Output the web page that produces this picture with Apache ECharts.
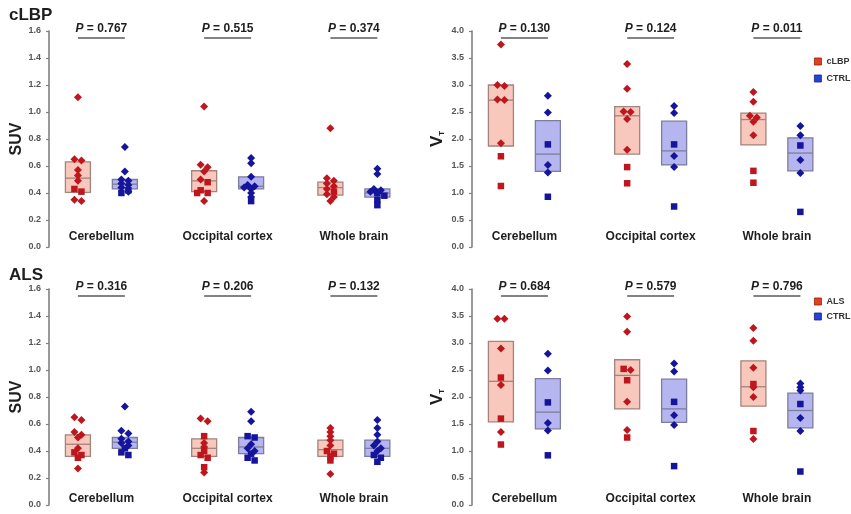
<!DOCTYPE html>
<html>
<head>
<meta charset="utf-8">
<script src="https://cdn.jsdelivr.net/npm/echarts@6/dist/echarts.min.js"></script>
<style>
  html, body { margin: 0; padding: 0; background: #ffffff; }
  #chart { width: 851px; height: 514px; }
</style>
</head>
<body>
<div id="chart"></div>
<script>
// Brain regions shown in every panel
const regions = ['Cerebellum', 'Occipital cortex', 'Whole brain'];

// ---- cLBP cohort, SUV ----
const lbpSuvCaseDiamonds = [[1.11, 0.65, 0.64, 0.57, 0.53, 0.49, 0.35, 0.34], [1.04, 0.61, 0.59, 0.56, 0.50, 0.34], [0.88, 0.51, 0.49, 0.47, 0.45, 0.43, 0.39, 0.37, 0.34]];
const lbpSuvCaseSquares  = [[0.43, 0.41], [0.48, 0.42, 0.40, 0.40], [0.41]];
const lbpSuvCaseBox      = [[0.405, 0.51, 0.63], [0.41, 0.49, 0.565], [0.385, 0.44, 0.48]];   // [Q1, median, Q3]
const lbpSuvCtrlDiamonds = [[0.74, 0.56, 0.50, 0.49, 0.47, 0.46, 0.44, 0.41], [0.66, 0.62, 0.52, 0.46, 0.45, 0.44, 0.43, 0.40, 0.37], [0.58, 0.54, 0.43, 0.42, 0.41, 0.40]];
const lbpSuvCtrlSquares  = [[0.42, 0.40], [0.34], [0.40, 0.38, 0.35, 0.31]];
const lbpSuvCtrlBox      = [[0.43, 0.465, 0.50], [0.43, 0.45, 0.52], [0.37, 0.40, 0.43]];
const lbpSuvP            = [0.767, 0.515, 0.374];

// ---- cLBP cohort, VT ----
const lbpVtCaseDiamonds = [[3.75, 3.00, 2.98, 2.73, 2.72, 1.92], [3.39, 2.93, 2.51, 2.50, 2.37, 1.80], [2.87, 2.69, 2.43, 2.40, 2.32, 2.07]];
const lbpVtCaseSquares  = [[1.68, 1.13], [1.48, 1.18], [1.41, 1.19]];
const lbpVtCaseBox      = [[1.87, 2.72, 3.00], [1.72, 2.43, 2.60], [1.89, 2.36, 2.48]];
const lbpVtCtrlDiamonds = [[2.80, 2.49, 1.52, 1.38], [2.61, 2.48, 1.685, 1.48], [2.24, 2.07, 1.61, 1.37]];
const lbpVtCtrlSquares  = [[1.90, 0.93], [1.90, 0.75], [1.88, 0.65]];
const lbpVtCtrlBox      = [[1.40, 1.72, 2.34], [1.52, 1.78, 2.33], [1.41, 1.74, 2.02]];
const lbpVtP            = [0.130, 0.124, 0.011];

// ---- ALS cohort, SUV ----
const alsSuvCaseDiamonds = [[0.65, 0.63, 0.54, 0.52, 0.50, 0.42, 0.27], [0.64, 0.62, 0.46, 0.43, 0.24], [0.57, 0.54, 0.51, 0.48, 0.44, 0.23]];
const alsSuvCaseSquares  = [[0.39, 0.37, 0.35], [0.51, 0.40, 0.37, 0.35, 0.28], [0.40, 0.38, 0.36, 0.33]];
const alsSuvCaseBox      = [[0.36, 0.45, 0.52], [0.36, 0.42, 0.49], [0.36, 0.41, 0.48]];
const alsSuvCtrlDiamonds = [[0.73, 0.55, 0.53, 0.49, 0.47, 0.46, 0.44], [0.69, 0.62, 0.45, 0.42, 0.40], [0.63, 0.57, 0.52, 0.47, 0.44, 0.42, 0.40]];
const alsSuvCtrlSquares  = [[0.42, 0.39, 0.37], [0.51, 0.50, 0.38, 0.35, 0.33], [0.37, 0.35, 0.32]];
const alsSuvCtrlBox      = [[0.42, 0.465, 0.50], [0.38, 0.43, 0.50], [0.36, 0.42, 0.48]];
const alsSuvP            = [0.316, 0.206, 0.132];

// ---- ALS cohort, VT ----
const alsVtCaseDiamonds = [[3.45, 3.45, 2.90, 2.22, 1.35], [3.49, 3.21, 2.50, 1.91, 1.39], [3.28, 3.04, 2.54, 2.18, 2.00, 1.22]];
const alsVtCaseSquares  = [[2.36, 1.60, 1.12], [2.52, 2.31, 1.25], [2.24, 1.37]];
const alsVtCaseBox      = [[1.54, 2.29, 3.03], [1.78, 2.40, 2.69], [1.83, 2.19, 2.67]];
const alsVtCtrlDiamonds = [[2.80, 2.49, 1.52, 1.38], [2.62, 2.47, 1.66, 1.48], [2.25, 2.18, 2.12, 1.61, 1.37]];
const alsVtCtrlSquares  = [[1.90, 0.92], [1.91, 0.72], [1.87, 0.62]];
const alsVtCtrlBox      = [[1.41, 1.72, 2.34], [1.53, 1.78, 2.33], [1.43, 1.75, 2.07]];
const alsVtP            = [0.684, 0.579, 0.796];

// ---- layout & style ----
const FONT = '"Liberation Sans", Arial, sans-serif';
const X_MIN = -0.415, X_MAX = 2.5;
const PLOT_W = 368, PLOT_H = 216;
const PX_PER_UNIT = PLOT_W / (X_MAX - X_MIN);
const PAIR_OFFSET = 0.186;          // distance of each group from the region centre
const BOX_W = 25;
const CASE_POINT = '#bf151c', CTRL_POINT = '#14149c';
const CASE_FILL = '#f9c8bc', CASE_EDGE = '#a3837d';
const CTRL_FILL = '#b5b5ef', CTRL_EDGE = '#7d7d9e';

const panels = [
  { left: 49,  top: 31,  yMax: 1.6, step: 0.2, vt: false, caseName: 'cLBP', labelMargin: -10,
    caseD: lbpSuvCaseDiamonds, caseS: lbpSuvCaseSquares, caseBox: lbpSuvCaseBox,
    ctrlD: lbpSuvCtrlDiamonds, ctrlS: lbpSuvCtrlSquares, ctrlBox: lbpSuvCtrlBox, p: lbpSuvP },
  { left: 472, top: 31,  yMax: 4.0, step: 0.5, vt: true, caseName: 'cLBP', labelMargin: -10,
    caseD: lbpVtCaseDiamonds, caseS: lbpVtCaseSquares, caseBox: lbpVtCaseBox,
    ctrlD: lbpVtCtrlDiamonds, ctrlS: lbpVtCtrlSquares, ctrlBox: lbpVtCtrlBox, p: lbpVtP },
  { left: 49,  top: 289, yMax: 1.6, step: 0.2, vt: false, caseName: 'ALS', labelMargin: -6,
    caseD: alsSuvCaseDiamonds, caseS: alsSuvCaseSquares, caseBox: alsSuvCaseBox,
    ctrlD: alsSuvCtrlDiamonds, ctrlS: alsSuvCtrlSquares, ctrlBox: alsSuvCtrlBox, p: alsSuvP },
  { left: 472, top: 289, yMax: 4.0, step: 0.5, vt: true, caseName: 'ALS', labelMargin: -6,
    caseD: alsVtCaseDiamonds, caseS: alsVtCaseSquares, caseBox: alsVtCaseBox,
    ctrlD: alsVtCtrlDiamonds, ctrlS: alsVtCtrlSquares, ctrlBox: alsVtCtrlBox, p: alsVtP }
];

// Nudge nearly coincident points sideways (pixel offsets) so each stays visible;
// a lone pair is then centred on the group position.
function spread(diamonds, squares, yMax) {
  const pts = diamonds.map(v => ({ v, shape: 'd' }))
    .concat(squares.map(v => ({ v, shape: 's' })))
    .sort((a, b) => b.v - a.v);
  const pxY = PLOT_H / yMax;
  const near = (a, b, offA, offB) => Math.hypot(offA - offB, (a.v - b.v) * pxY) < 3;
  const placed = [];
  pts.forEach(p => {
    p.off = 0;
    for (const off of [0, 7, -7]) {
      const hits = placed.filter(q => near(p, q, off, q.off));
      if (!hits.length) { p.off = off; break; }
      if (off === 0 && hits.length === 1) p.partner = hits[0];
    }
    placed.push(p);
  });
  pts.forEach(p => {
    const q = p.partner;
    if (q && q.off === 0 && Math.abs(p.off) === 7) { q.off = -p.off / 2; p.off = p.off / 2; }
  });
  return pts;
}

function boxSeries(idx, name, boxes, side, fill, edge) {
  return {
    type: 'custom', name, xAxisIndex: idx, yAxisIndex: idx, silent: true, z: 2,
    data: boxes.map((b, i) => [i + side * PAIR_OFFSET, b[0], b[1], b[2]]),
    encode: { x: 0, y: [1, 2, 3] },
    renderItem: (params, api) => {
      const x = api.value(0);
      const lo = api.coord([x, api.value(1)]);
      const md = api.coord([x, api.value(2)]);
      const hi = api.coord([x, api.value(3)]);
      return {
        type: 'group',
        children: [
          { type: 'rect', shape: { x: lo[0] - BOX_W / 2, y: hi[1], width: BOX_W, height: lo[1] - hi[1] },
            style: { fill, stroke: edge, lineWidth: 1.3 } },
          { type: 'line', shape: { x1: lo[0] - BOX_W / 2, y1: md[1], x2: lo[0] + BOX_W / 2, y2: md[1] },
            style: { stroke: edge, lineWidth: 1.3 } }
        ]
      };
    }
  };
}

function pointSeries(idx, name, diamonds, squares, side, yMax, color) {
  const out = { d: [], s: [] };
  diamonds.forEach((_, r) => {
    spread(diamonds[r], squares[r], yMax).forEach(p => {
      out[p.shape].push([r + side * PAIR_OFFSET + p.off / PX_PER_UNIT, p.v]);
    });
  });
  return [
    { type: 'scatter', name, xAxisIndex: idx, yAxisIndex: idx, silent: true, z: 4,
      symbol: 'diamond', symbolSize: 8, itemStyle: { color, opacity: 1 }, data: out.d },
    { type: 'scatter', name, xAxisIndex: idx, yAxisIndex: idx, silent: true, z: 4,
      symbol: 'rect', symbolSize: 6.5, itemStyle: { color, opacity: 1 }, data: out.s }
  ];
}

function pValueSeries(idx, pVals, yMax) {
  const txt = { fontSize: 12, fontWeight: 'bold', fontFamily: FONT, fill: '#1e1e1e' };
  return {
    type: 'custom', xAxisIndex: idx, yAxisIndex: idx, silent: true, clip: false, z: 5,
    data: pVals.map((p, i) => [i, yMax, p]),
    encode: { x: 0, y: 1 },
    renderItem: (params, api) => {
      const i = api.value(0), y = api.value(1);
      const c = api.coord([i, y]);
      const a = api.coord([i - PAIR_OFFSET, y]);
      const b = api.coord([i + PAIR_OFFSET, y]);
      return {
        type: 'group',
        children: [
          { type: 'text', x: c[0], y: c[1] - 2,
            style: { text: '{i|P}{n| = ' + api.value(2).toFixed(3) + '}', align: 'center', verticalAlign: 'middle',
              rich: { i: Object.assign({ fontStyle: 'italic' }, txt), n: txt } } },
          { type: 'line', shape: { x1: a[0], y1: c[1] + 7, x2: b[0], y2: c[1] + 7 },
            style: { stroke: '#5a5a5a', lineWidth: 1.5 } }
        ]
      };
    }
  };
}

const grid = [], xAxis = [], yAxis = [], series = [];
panels.forEach((pn, idx) => {
  grid.push({ left: pn.left, top: pn.top, width: PLOT_W, height: PLOT_H });
  xAxis.push({
    gridIndex: idx, type: 'value', min: X_MIN, max: X_MAX,
    axisLine: { show: false, onZero: false }, axisTick: { show: false }, splitLine: { show: false },
    axisLabel: {
      customValues: [0, 1, 2], formatter: v => regions[Math.round(v)],
      margin: pn.labelMargin, verticalAlign: 'middle',
      fontSize: 12, fontWeight: 'bold', fontFamily: FONT, color: '#1e1e1e'
    }
  });
  yAxis.push({
    gridIndex: idx, type: 'value', min: 0, max: pn.yMax, interval: pn.step,
    axisLine: { show: true, onZero: false, lineStyle: { color: '#808080', width: 1.6 } },
    axisTick: { show: true, length: 3, lineStyle: { color: '#808080', width: 1.2 } },
    splitLine: { show: false },
    axisLabel: { formatter: v => v.toFixed(1), margin: 8, fontSize: 9, fontWeight: 'bold', fontFamily: FONT, color: '#555555' },
    name: pn.vt ? '{v|V}{t|T}' : 'SUV',
    nameLocation: 'middle', nameGap: pn.vt ? 26 : 22,
    nameTextStyle: pn.vt
      ? { rich: { v: { fontSize: 17, fontWeight: 'bold', fontFamily: FONT, color: '#1e1e1e' },
                  t: { fontSize: 8, fontWeight: 'bold', fontFamily: FONT, color: '#1e1e1e', verticalAlign: 'bottom' } } }
      : { fontSize: 16, fontWeight: 'bold', fontFamily: FONT, color: '#1e1e1e' }
  });
  series.push(boxSeries(idx, pn.caseName, pn.caseBox, -1, CASE_FILL, CASE_EDGE));
  series.push(boxSeries(idx, 'CTRL', pn.ctrlBox, 1, CTRL_FILL, CTRL_EDGE));
  series.push(...pointSeries(idx, pn.caseName, pn.caseD, pn.caseS, -1, pn.yMax, CASE_POINT));
  series.push(...pointSeries(idx, 'CTRL', pn.ctrlD, pn.ctrlS, 1, pn.yMax, CTRL_POINT));
  series.push(pValueSeries(idx, pn.p, pn.yMax));
});

function legendFor(caseName, top, gap) {
  return {
    left: 814, top, orient: 'vertical', padding: 0, itemGap: gap,
    itemWidth: 7, itemHeight: 7, selectedMode: false,
    textStyle: { fontSize: 9, fontWeight: 'bold', fontFamily: FONT, color: '#333333' },
    data: [
      { name: caseName, icon: 'rect', itemStyle: { color: '#e2401f', borderColor: '#8c1c10', borderWidth: 0.8 } },
      { name: 'CTRL', icon: 'rect', itemStyle: { color: '#2443dd', borderColor: '#14207a', borderWidth: 0.8 } }
    ]
  };
}

const chart = echarts.init(document.getElementById('chart'), null, { renderer: 'canvas' });
chart.setOption({
  animation: false,
  backgroundColor: '#ffffff',
  title: [
    { text: 'cLBP', left: 9, top: 7, padding: 0, textStyle: { fontSize: 17, fontWeight: 'bold', fontFamily: FONT, color: '#1e1e1e' } },
    { text: 'ALS', left: 9, top: 267, padding: 0, textStyle: { fontSize: 17, fontWeight: 'bold', fontFamily: FONT, color: '#1e1e1e' } }
  ],
  legend: [legendFor('cLBP', 57, 8), legendFor('ALS', 297, 6)],
  grid, xAxis, yAxis, series
});
</script>
</body>
</html>
